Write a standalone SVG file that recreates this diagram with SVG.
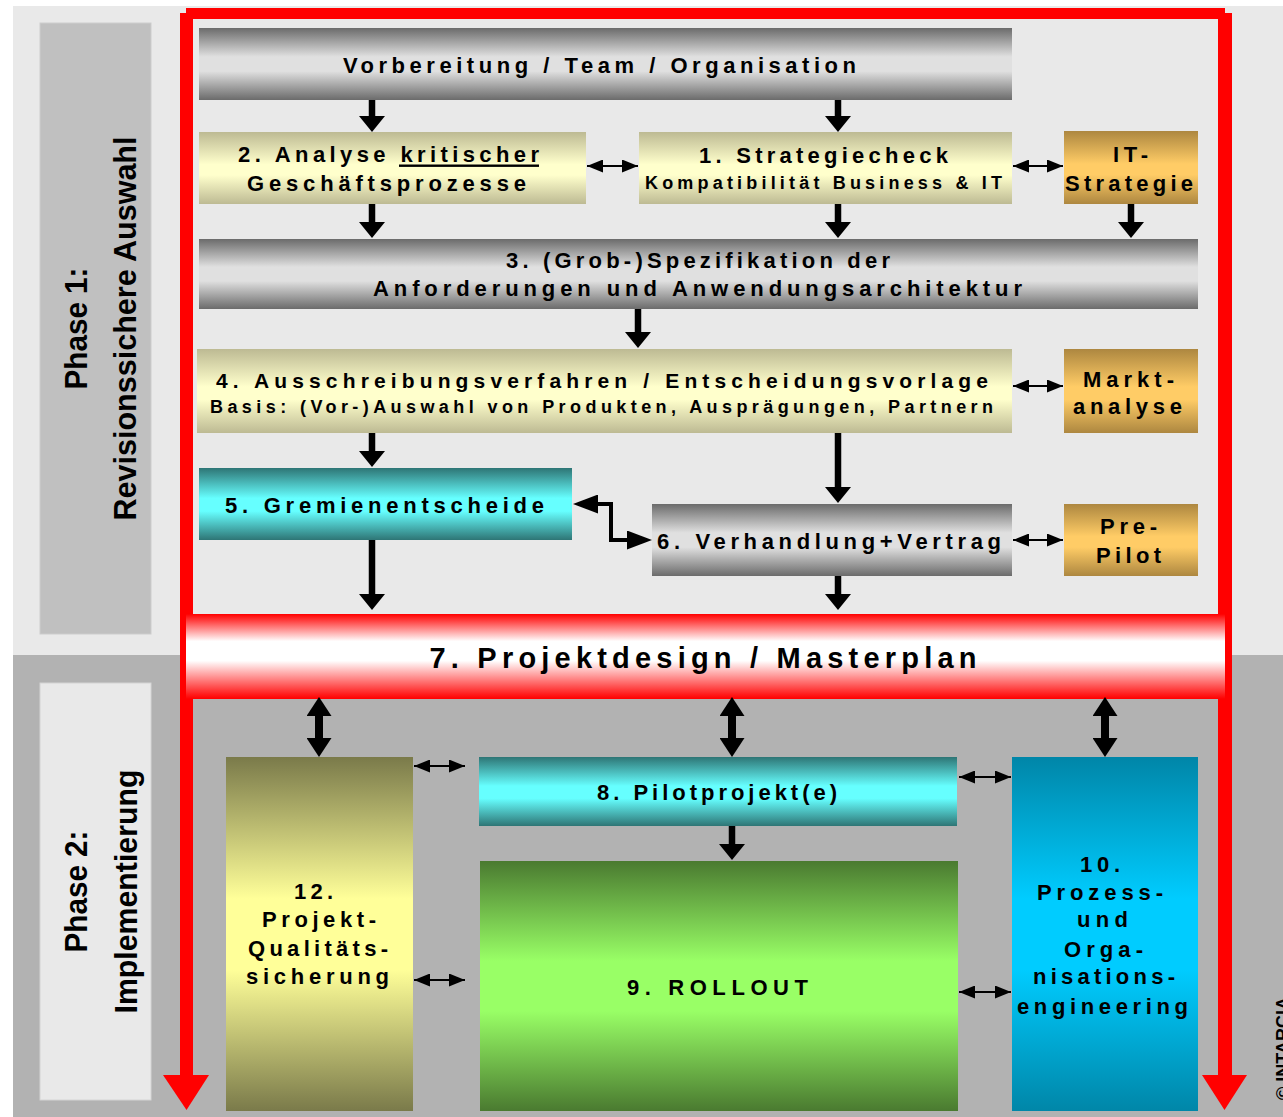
<svg xmlns="http://www.w3.org/2000/svg" width="1283" height="1117" viewBox="0 0 1283 1117">
  <style>
    text { font-family: "Liberation Sans", Arial, sans-serif; font-weight: bold; fill: #000; }
    .t { font-size: 22px; text-anchor: middle; }
    .s { font-size: 18px; text-anchor: middle; }
    .ph { font-size: 31px; text-anchor: middle; }
    .thick { stroke: #000; stroke-width: 6.5; fill: none; marker-end: url(#ah); }
    .dbl { stroke: #000; stroke-width: 8; fill: none; marker-start: url(#av); marker-end: url(#av); }
    .thin { stroke: #000; stroke-width: 2; fill: none; marker-start: url(#as); marker-end: url(#as); }
    .elbow { stroke: #000; stroke-width: 4; fill: none; marker-start: url(#ae); marker-end: url(#ae); }
    .red { fill: #ff0000; }
  </style>
  <defs>
    <linearGradient id="gGray" x1="0" y1="0" x2="0" y2="1">
      <stop offset="0" stop-color="#6b6b6b"/>
      <stop offset="0.4" stop-color="#e0e0e0"/>
      <stop offset="0.6" stop-color="#e0e0e0"/>
      <stop offset="1" stop-color="#6b6b6b"/>
    </linearGradient>
    <linearGradient id="gYellow" x1="0" y1="0" x2="0" y2="1">
      <stop offset="0" stop-color="#bdba93"/>
      <stop offset="0.45" stop-color="#ffffcc"/>
      <stop offset="0.6" stop-color="#ffffcc"/>
      <stop offset="1" stop-color="#bdba93"/>
    </linearGradient>
    <linearGradient id="gOrange" x1="0" y1="0" x2="0" y2="1">
      <stop offset="0" stop-color="#ad8740"/>
      <stop offset="0.45" stop-color="#ffcc66"/>
      <stop offset="0.6" stop-color="#ffcc66"/>
      <stop offset="1" stop-color="#ad8740"/>
    </linearGradient>
    <linearGradient id="gCyan" x1="0" y1="0" x2="0" y2="1">
      <stop offset="0" stop-color="#2e7575"/>
      <stop offset="0.42" stop-color="#66ffff"/>
      <stop offset="0.6" stop-color="#66ffff"/>
      <stop offset="1" stop-color="#2e7575"/>
    </linearGradient>
    <linearGradient id="gGreen" x1="0" y1="0" x2="0" y2="1">
      <stop offset="0" stop-color="#4a7a30"/>
      <stop offset="0.4" stop-color="#99ff66"/>
      <stop offset="0.6" stop-color="#99ff66"/>
      <stop offset="1" stop-color="#4a7a30"/>
    </linearGradient>
    <linearGradient id="gOlive" x1="0" y1="0" x2="0" y2="1">
      <stop offset="0" stop-color="#7a7a4a"/>
      <stop offset="0.4" stop-color="#ffff99"/>
      <stop offset="0.6" stop-color="#ffff99"/>
      <stop offset="1" stop-color="#7a7a4a"/>
    </linearGradient>
    <linearGradient id="gBlue" x1="0" y1="0" x2="0" y2="1">
      <stop offset="0" stop-color="#0086a8"/>
      <stop offset="0.4" stop-color="#00ccff"/>
      <stop offset="0.6" stop-color="#00ccff"/>
      <stop offset="1" stop-color="#0086a8"/>
    </linearGradient>
    <linearGradient id="gRed" x1="0" y1="0" x2="0" y2="1">
      <stop offset="0" stop-color="#ff0000"/>
      <stop offset="0.32" stop-color="#ffffff"/>
      <stop offset="0.55" stop-color="#ffffff"/>
      <stop offset="0.95" stop-color="#ff1a1a"/>
      <stop offset="1" stop-color="#ff0000"/>
    </linearGradient>
    <!-- heavy single arrowhead -->
    <marker id="ah" markerUnits="userSpaceOnUse" viewBox="0 0 16 26" markerWidth="16" markerHeight="26" refX="6" refY="13" orient="auto">
      <path d="M0,0 L16,13 L0,26 z" fill="#000"/>
    </marker>
    <!-- heavy double arrowhead (vertical links to the master plan) -->
    <marker id="av" markerUnits="userSpaceOnUse" viewBox="0 0 19 25" markerWidth="19" markerHeight="25" refX="7" refY="12.5" orient="auto-start-reverse">
      <path d="M0,0 L19,12.5 L0,25 z" fill="#000"/>
    </marker>
    <!-- small arrowhead for side links -->
    <marker id="as" markerUnits="userSpaceOnUse" viewBox="0 0 16 13" markerWidth="16" markerHeight="13" refX="16" refY="6.5" orient="auto-start-reverse">
      <path d="M0,0 L16,6.5 L0,13 z" fill="#000"/>
    </marker>
    <!-- arrowhead for the elbow link -->
    <marker id="ae" markerUnits="userSpaceOnUse" viewBox="0 0 25 19" markerWidth="25" markerHeight="19" refX="20" refY="9.5" orient="auto-start-reverse">
      <path d="M0,0 L25,9.5 L0,19 z" fill="#000"/>
    </marker>
  </defs>

  <!-- page background and phase bands -->
  <rect x="0" y="0" width="1283" height="1117" fill="#ffffff"/>
  <rect x="13" y="6" width="1270" height="649" fill="#e9e9e9"/>
  <rect x="13" y="655" width="1270" height="462" fill="#b2b2b2"/>

  <g id="phase1">
    <rect x="40" y="23" width="111" height="611" fill="#c0c0c0" stroke="#cdcdcd" stroke-width="1"/>
    <text class="ph" transform="translate(87,328.5) rotate(-90)" textLength="122" lengthAdjust="spacingAndGlyphs">Phase 1:</text>
    <text class="ph" transform="translate(136,328.5) rotate(-90)" textLength="384" lengthAdjust="spacingAndGlyphs">Revisionssichere Auswahl</text>
  </g>
  <g id="phase2">
    <rect x="40" y="683" width="111" height="417" fill="#e9e9e9" stroke="#d4d4d4" stroke-width="1"/>
    <text class="ph" transform="translate(87,891.5) rotate(-90)" textLength="122" lengthAdjust="spacingAndGlyphs">Phase 2:</text>
    <text class="ph" transform="translate(137,891.5) rotate(-90)" textLength="244" lengthAdjust="spacingAndGlyphs">Implementierung</text>
  </g>

  <!-- red cycle frame with its two downward arrows -->
  <g id="cycle">
    <rect class="red" x="186" y="8" width="1039" height="11"/>
    <rect class="red" x="180" y="13" width="13" height="1064"/>
    <rect class="red" x="1218" y="13" width="14" height="1064"/>
    <polygon class="red" points="163,1075 209,1075 186.5,1110"/>
    <polygon class="red" points="1202,1075 1247,1075 1224.5,1110"/>
  </g>

  <g id="n-vorbereitung">
    <rect x="199" y="28" width="813" height="72" fill="url(#gGray)"/>
    <text class="t" x="599.5" y="73" textLength="513" lengthAdjust="spacing">Vorbereitung / Team / Organisation</text>
  </g>

  <g id="n2-analyse">
    <rect x="199" y="132" width="387" height="72" fill="url(#gYellow)"/>
    <text class="t" x="388.5" y="162" textLength="301" lengthAdjust="spacing">2. Analyse kritischer</text>
    <!-- underline of "kritischer" -->
    <rect x="399" y="164.5" width="140" height="2.4" fill="#000"/>
    <text class="t" x="386.5" y="191" textLength="279" lengthAdjust="spacing">Geschäftsprozesse</text>
  </g>

  <g id="n1-strategiecheck">
    <rect x="639" y="132" width="373" height="72" fill="url(#gYellow)"/>
    <text class="t" x="823.5" y="163" textLength="249" lengthAdjust="spacing">1. Strategiecheck</text>
    <text class="s" x="823.5" y="189" textLength="357" lengthAdjust="spacing">Kompatibilität Business &amp; IT</text>
  </g>

  <g id="n-it-strategie">
    <rect x="1064" y="131" width="134" height="73" fill="url(#gOrange)"/>
    <text class="t" x="1130.5" y="162" textLength="35" lengthAdjust="spacing">IT-</text>
    <text class="t" x="1129" y="191" textLength="128" lengthAdjust="spacing">Strategie</text>
  </g>

  <g id="n3-spezifikation">
    <rect x="199" y="239" width="999" height="70" fill="url(#gGray)"/>
    <text class="t" x="698" y="268" textLength="384" lengthAdjust="spacing">3. (Grob-)Spezifikation der</text>
    <text class="t" x="697.5" y="296" textLength="649" lengthAdjust="spacing">Anforderungen und Anwendungsarchitektur</text>
  </g>

  <g id="n4-ausschreibung">
    <rect x="197" y="349" width="815" height="84" fill="url(#gYellow)"/>
    <text class="t" x="602" y="388" style="font-size:21px" textLength="772" lengthAdjust="spacing">4. Ausschreibungsverfahren / Entscheidungsvorlage</text>
    <text class="s" x="601.5" y="413" textLength="783" lengthAdjust="spacing">Basis: (Vor-)Auswahl von Produkten, Ausprägungen, Partnern</text>
  </g>

  <g id="n-marktanalyse">
    <rect x="1064" y="349" width="134" height="84" fill="url(#gOrange)"/>
    <text class="t" x="1128.5" y="387" textLength="91" lengthAdjust="spacing">Markt-</text>
    <text class="t" x="1127.5" y="414" textLength="109" lengthAdjust="spacing">analyse</text>
  </g>

  <g id="n5-gremien">
    <rect x="199" y="468" width="373" height="72" fill="url(#gCyan)"/>
    <text class="t" x="384.5" y="513" textLength="319" lengthAdjust="spacing">5. Gremienentscheide</text>
  </g>

  <g id="n6-verhandlung">
    <rect x="652" y="504" width="360" height="72" fill="url(#gGray)"/>
    <text class="t" x="829" y="549" textLength="344" lengthAdjust="spacing">6. Verhandlung+Vertrag</text>
  </g>

  <g id="n-prepilot">
    <rect x="1064" y="504" width="134" height="72" fill="url(#gOrange)"/>
    <text class="t" x="1128.5" y="534" textLength="57" lengthAdjust="spacing">Pre-</text>
    <text class="t" x="1128.5" y="563" textLength="65" lengthAdjust="spacing">Pilot</text>
  </g>

  <g id="n7-masterplan">
    <rect x="186" y="614" width="1039" height="85" fill="url(#gRed)"/>
    <text class="t" x="703" y="668" style="font-size:29px" textLength="547" lengthAdjust="spacing">7. Projektdesign / Masterplan</text>
  </g>

  <g id="n12-qualitaet">
    <rect x="226" y="757" width="187" height="354" fill="url(#gOlive)"/>
    <text class="t" x="313.5" y="899" textLength="39" lengthAdjust="spacing">12.</text>
    <text class="t" x="319" y="927" textLength="114" lengthAdjust="spacing">Projekt-</text>
    <text class="t" x="318" y="956" textLength="140" lengthAdjust="spacing">Qualitäts-</text>
    <text class="t" x="317.5" y="984" textLength="143" lengthAdjust="spacing">sicherung</text>
  </g>

  <g id="n8-pilot">
    <rect x="479" y="757" width="478" height="69" fill="url(#gCyan)"/>
    <text class="t" x="717" y="800" textLength="240" lengthAdjust="spacing">8. Pilotprojekt(e)</text>
  </g>

  <g id="n9-rollout">
    <rect x="480" y="861" width="478" height="250" fill="url(#gGreen)"/>
    <text class="t" x="717.5" y="995" textLength="181" lengthAdjust="spacing">9. ROLLOUT</text>
  </g>

  <g id="n10-prozess">
    <rect x="1012" y="757" width="186" height="354" fill="url(#gBlue)"/>
    <text class="t" x="1100" y="872" textLength="40" lengthAdjust="spacing">10.</text>
    <text class="t" x="1100" y="900" textLength="126" lengthAdjust="spacing">Prozess-</text>
    <text class="t" x="1102.5" y="927" textLength="51" lengthAdjust="spacing">und</text>
    <text class="t" x="1103.5" y="957" textLength="79" lengthAdjust="spacing">Orga-</text>
    <text class="t" x="1104" y="984" textLength="142" lengthAdjust="spacing">nisations-</text>
    <text class="t" x="1102.5" y="1014" textLength="171" lengthAdjust="spacing">engineering</text>
  </g>

  <g id="connectors">
    <!-- flow downwards -->
    <line class="thick" x1="372" y1="100" x2="372" y2="122"/>
    <line class="thick" x1="838" y1="100" x2="838" y2="122"/>
    <line class="thick" x1="372" y1="204" x2="372" y2="228"/>
    <line class="thick" x1="838" y1="204" x2="838" y2="228"/>
    <line class="thick" x1="1131" y1="204" x2="1131" y2="228"/>
    <line class="thick" x1="638" y1="309" x2="638" y2="338"/>
    <line class="thick" x1="372" y1="433" x2="372" y2="457"/>
    <line class="thick" x1="838" y1="433" x2="838" y2="493"/>
    <line class="thick" x1="372" y1="540" x2="372" y2="600"/>
    <line class="thick" x1="838" y1="576" x2="838" y2="600"/>
    <line class="thick" x1="732" y1="826" x2="732" y2="850"/>
    <!-- master plan links -->
    <line class="dbl" x1="319" y1="709" x2="319" y2="745"/>
    <line class="dbl" x1="732" y1="709" x2="732" y2="745"/>
    <line class="dbl" x1="1105" y1="709" x2="1105" y2="745"/>
    <!-- side links -->
    <line class="thin" x1="587" y1="166" x2="638" y2="166"/>
    <line class="thin" x1="1013" y1="166" x2="1063" y2="166"/>
    <line class="thin" x1="1013" y1="386" x2="1063" y2="386"/>
    <line class="thin" x1="1013" y1="540" x2="1063" y2="540"/>
    <line class="thin" x1="414" y1="766" x2="465" y2="766"/>
    <line class="thin" x1="414" y1="980" x2="465" y2="980"/>
    <line class="thin" x1="959" y1="777" x2="1011" y2="777"/>
    <line class="thin" x1="959" y1="992" x2="1011" y2="992"/>
    <!-- Gremien <-> Verhandlung -->
    <path class="elbow" d="M578,504 H611 V540 H647"/>
  </g>

  <text transform="translate(1289,1100) rotate(-90)" style="font-size:18px">© INTARCIA</text>
</svg>
